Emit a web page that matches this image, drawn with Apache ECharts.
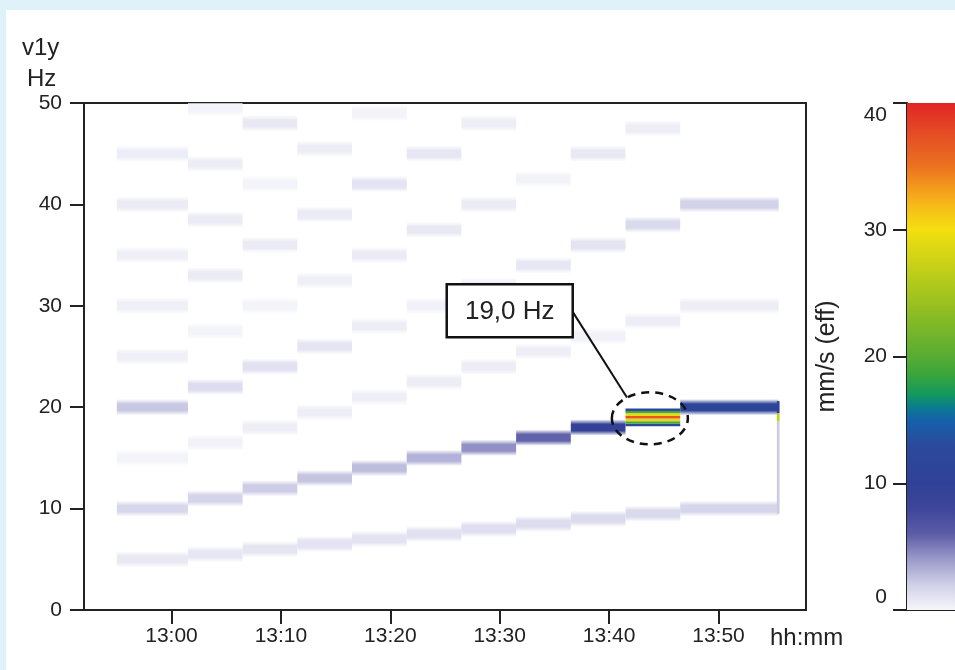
<!DOCTYPE html>
<html>
<head>
<meta charset="utf-8">
<script src="https://cdn.jsdelivr.net/npm/echarts@6/dist/echarts.min.js"></script>
<style>
  html, body { margin: 0; padding: 0; background: #dff1f9; }
  #panel { position: absolute; left: 6px; top: 10px; right: 0; bottom: 0; background: #ffffff; }
  #chart { position: absolute; left: 0; top: 0; width: 955px; height: 670px; }
</style>
</head>
<body>
<div id="panel"></div>
<div id="chart"></div>
<script>
// ---- run-up steps: boundaries (clock time) and shaft frequency of each step ----
const stepTimes = ['12:55:00', '13:01:30', '13:06:30', '13:11:30', '13:16:30', '13:21:30',
                   '13:26:30', '13:31:30', '13:36:30', '13:41:30', '13:46:30', '13:55:30'];
const stepFreq = [10, 11, 12, 13, 14, 15, 16, 17, 18, 19, 20];   // Hz

// ---- orders (multiples of the shaft frequency) and their velocity, mm/s (eff) ----
const orders = [0.5, 1, 1.5, 2, 2.5, 3, 3.5, 4, 4.5];
const orderAmp = [
  [0.7, 0.8, 0.9, 1.0, 1.0, 1.1, 1.2, 1.3, 1.4, 1.5, 1.7],      // 0.5 x
  [1.6, 1.8, 2.1, 2.4, 2.7, 3.1, 4.3, 5.8, 9.5, 37, 11.0],      // 1 x
  [0.15, 0.2, 0.4, 0.4, 0.35, 0.5, 0.5, 0.4, 0.25, 0.45, 0.5],  // 1.5 x
  [2.3, 1.3, 1.1, 0.9, 0.5, 0.25, 0.35, 0.8, 1.0, 1.5, 1.9],    // 2 x
  [0.35, 0.15, 0.15, 0.35, 0.6, 0.7, 0.6, 0.2, 0.7, 0.4, 0],    // 2.5 x
  [0.35, 0.6, 0.6, 0.6, 1.0, 0.8, 0.4, 0, 0, 0, 0],             // 3 x
  [0.35, 0.6, 0.15, 0.5, 0.15, 0, 0, 0, 0, 0, 0],               // 3.5 x
  [0.6, 0.5, 0.7, 0, 0, 0, 0, 0, 0, 0, 0],                      // 4 x
  [0.45, 0.15, 0, 0, 0, 0, 0, 0, 0, 0, 0]                       // 4.5 x
];

// ---- resonance step: fine spectral lines around the 1 x peak ----
const peakStep = 9;
const peakOffsets = [-0.75, -0.5, -0.25, 0, 0.25, 0.5, 0.75];   // Hz from peak
const peakValues = [12, 19, 29, 37, 29, 19, 12];                 // mm/s (eff)

// ---- short transient when the machine is stopped ----
const stopTimes = ['13:55:20', '13:55:35'];
const stopBins = [[9.5, 18.6, 2.2], [18.6, 19.4, 27], [19.4, 20.6, 10]]; // fLow, fHigh, mm/s

// ---- axes ----
const timeTicks = ['13:00', '13:10', '13:20', '13:30', '13:40', '13:50'];
const timeRange = ['12:52', '13:58'];
const freqTicks = [0, 10, 20, 30, 40, 50];

// ---- colour scale (mm/s -> colour) ----
const colourStops = [
  [0, '#f6f6fb'], [2, '#d0d0e8'], [4, '#9a9aca'], [6, '#5c5ca8'], [8, '#3e4699'],
  [10, '#2f4196'], [13, '#2b4a9d'], [15, '#1462aa'], [16, '#0b7c8e'], [17, '#13985f'],
  [18.5, '#38a53d'], [20, '#58ac34'], [24, '#96c021'], [28, '#d4d515'], [30, '#f3df10'],
  [32, '#f7b919'], [35, '#ec7220'], [38, '#e44625'], [40, '#e02525']
];
const colourMax = 40;

const FONT = "'Liberation Sans', Arial, Helvetica, sans-serif";
const INK = '#222222';
const bandHalf = 0.8;   // half height of an order line, Hz
const peakBin = 0.25;   // resonance bin height, Hz

function toMin(s) {
  const p = s.split(':').map(Number);
  return p[0] * 60 + p[1] + (p[2] || 0) / 60;
}
function fmtClock(m) {
  const h = Math.floor(m / 60), mm = Math.round(m - h * 60);
  return h + ':' + String(mm).padStart(2, '0');
}
function hexRgb(h) {
  const n = parseInt(h.slice(1), 16);
  return [(n >> 16) & 255, (n >> 8) & 255, n & 255];
}
function colourAt(v) {
  v = Math.max(0, Math.min(colourMax, v));
  for (let i = 0; i < colourStops.length - 1; i++) {
    const [v0, c0] = colourStops[i], [v1, c1] = colourStops[i + 1];
    if (v <= v1) {
      const t = (v - v0) / (v1 - v0), a = hexRgb(c0), b = hexRgb(c1);
      return a.map((x, k) => Math.round(x + (b[k] - x) * t));
    }
  }
  return hexRgb(colourStops[colourStops.length - 1][1]);
}
const rgba = (c, a) => 'rgba(' + c[0] + ',' + c[1] + ',' + c[2] + ',' + a + ')';

// ---- spectrum cells: [t0, t1, fLow, fHigh, value, soft edge] ----
const cells = [];
orders.forEach((k, i) => {
  stepFreq.forEach((f, s) => {
    const a = orderAmp[i][s];
    if (!a || (k === 1 && s === peakStep)) return;
    const fc = k * f;
    if (fc - bandHalf >= freqTicks[freqTicks.length - 1]) return;
    cells.push([toMin(stepTimes[s]), toMin(stepTimes[s + 1]), fc - bandHalf, fc + bandHalf, a, 1]);
  });
});
const peakFreq = stepFreq[peakStep];
peakOffsets.forEach((o, i) => {
  cells.push([toMin(stepTimes[peakStep]), toMin(stepTimes[peakStep + 1]),
              peakFreq + o - peakBin / 2, peakFreq + o + peakBin / 2, peakValues[i], 0]);
});
stopBins.forEach(b => {
  cells.push([toMin(stopTimes[0]), toMin(stopTimes[1]), b[0], b[1], b[2], 0]);
});
cells.sort((a, b) => a[4] - b[4]);

const chart = echarts.init(document.getElementById('chart'), null, { renderer: 'canvas' });

const axisLine = { show: true, lineStyle: { color: INK, width: 2 } };
const axisTick = { show: true, length: 14, inside: false, lineStyle: { color: INK, width: 2 } };
const tickText = { color: INK, fontFamily: FONT, fontSize: 21 };
const titleText = { color: INK, fontFamily: FONT, fontSize: 24, fontWeight: 'normal' };

const barGradient = new echarts.graphic.LinearGradient(0, 0, 0, 1,
  colourStops.slice().reverse().map(([v, c]) => ({ offset: 1 - v / colourMax, color: c })));

chart.setOption({
  animation: false,
  textStyle: { fontFamily: FONT },
  title: [
    { text: 'v1y', left: 22, top: 36, padding: 0, textStyle: titleText },
    { text: 'Hz', left: 27, top: 67, padding: 0, textStyle: titleText },
    { text: 'hh:mm', left: 770, top: 626, padding: 0, textStyle: titleText }
  ],
  grid: [
    { left: 84, top: 103, width: 722, bottom: 60, show: true, borderColor: INK, borderWidth: 2,
      backgroundColor: 'transparent', containLabel: false },
    { left: 907, top: 103, width: 80, bottom: 60, show: false, containLabel: false }
  ],
  xAxis: [
    {
      type: 'value', gridIndex: 0, min: toMin(timeRange[0]), max: toMin(timeRange[1]),
      axisLine, splitLine: { show: false },
      axisTick: { ...axisTick, customValues: timeTicks.map(toMin) },
      axisLabel: { ...tickText, margin: 16, customValues: timeTicks.map(toMin), formatter: fmtClock }
    },
    {
      type: 'category', gridIndex: 1, data: ['mm/s'], boundaryGap: true,
      axisLine, axisTick: { show: false }, axisLabel: { show: false }
    }
  ],
  yAxis: [
    {
      type: 'value', gridIndex: 0, min: freqTicks[0], max: freqTicks[freqTicks.length - 1], interval: 10,
      axisLine, axisTick, splitLine: { show: false },
      axisLabel: { ...tickText, margin: 22 }
    },
    {
      type: 'value', gridIndex: 1, position: 'left', min: 0, max: colourMax, interval: 10,
      axisLine, axisTick, splitLine: { show: false },
      name: 'mm/s (eff)', nameLocation: 'middle', nameGap: 67, nameRotate: 90,
      nameTextStyle: { color: INK, fontFamily: FONT, fontSize: 25 },
      axisLabel: {
        ...tickText, margin: 20,
        formatter: v => v === colourMax ? '{hi|' + v + '}' : (v === 0 ? '{lo|' + v + '}' : String(v)),
        rich: {
          hi: { ...tickText, padding: [24, 0, 0, 0] },
          lo: { ...tickText, padding: [0, 0, 26, 0] }
        }
      }
    }
  ],
  series: [
    {
      type: 'custom', xAxisIndex: 0, yAxisIndex: 0, clip: true,
      encode: { x: [0, 1], y: [2, 3] },
      data: cells,
      renderItem(params, api) {
        const p0 = api.coord([api.value(0), api.value(3)]);
        const p1 = api.coord([api.value(1), api.value(2)]);
        const c = colourAt(api.value(4));
        const fill = api.value(5)
          ? new echarts.graphic.LinearGradient(0, 0, 0, 1, [
              { offset: 0, color: rgba(c, 0) }, { offset: 0.3, color: rgba(c, 1) },
              { offset: 0.7, color: rgba(c, 1) }, { offset: 1, color: rgba(c, 0) }])
          : rgba(c, 1);
        return {
          type: 'rect',
          shape: { x: p0[0], y: p0[1], width: p1[0] - p0[0], height: p1[1] - p0[1] },
          style: { fill }
        };
      }
    },
    {
      type: 'bar', xAxisIndex: 1, yAxisIndex: 1, barWidth: '100%',
      data: [colourMax], itemStyle: { color: barGradient }, silent: true
    }
  ]
});

// ---- callout: peak value label with a dashed ring round the resonance ----
const peakTime = (toMin(stepTimes[peakStep]) + toMin(stepTimes[peakStep + 1])) / 2;
const calloutAt = [toMin('13:30:55'), 29.5];
const ring = chart.convertToPixel({ gridIndex: 0 }, [peakTime, peakFreq]);
const box = chart.convertToPixel({ gridIndex: 0 }, calloutAt);
const rx = 38, ry = 26, boxW = 126, boxH = 53;
const ang = -127 * Math.PI / 180;
const peakLabel = peakFreq.toFixed(1).replace('.', ',') + ' Hz';

chart.setOption({
  graphic: [
    {
      type: 'ellipse', z: 100,
      shape: { cx: ring[0] - 3, cy: ring[1] + 1, rx, ry },
      style: { fill: null, stroke: '#111', lineWidth: 2.5, lineDash: [8, 6] }
    },
    {
      type: 'line', z: 100,
      shape: { x1: box[0] + boxW / 2, y1: box[1] + 1,
               x2: ring[0] - 3 + rx * Math.cos(ang), y2: ring[1] + 1 + ry * Math.sin(ang) },
      style: { stroke: '#111', lineWidth: 2 }
    },
    {
      type: 'rect', z: 100,
      shape: { x: box[0] - boxW / 2, y: box[1] - boxH / 2, width: boxW, height: boxH },
      style: { fill: '#ffffff', stroke: '#111', lineWidth: 2.5 }
    },
    {
      type: 'text', z: 101, x: box[0], y: box[1] + 1,
      style: { text: peakLabel, fill: INK, font: '26px ' + FONT, align: 'center', verticalAlign: 'middle' }
    }
  ]
});
</script>
</body>
</html>
